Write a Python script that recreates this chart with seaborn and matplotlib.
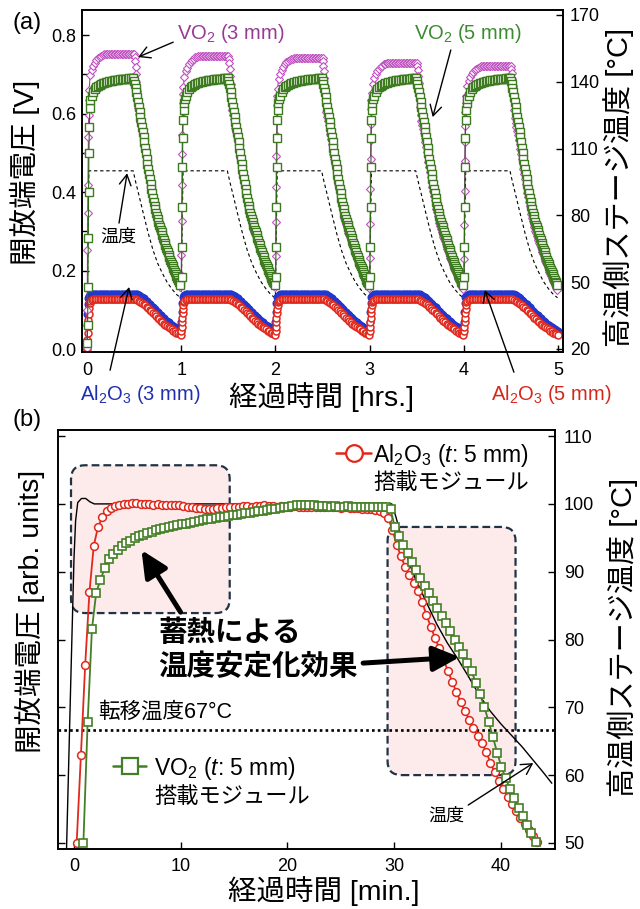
import matplotlib
matplotlib.use("Agg")
import matplotlib.pyplot as plt
import numpy as np
import seaborn as sns
from matplotlib.lines import Line2D
from matplotlib.patches import FancyBboxPatch
from matplotlib.ticker import MultipleLocator, FormatStrFormatter

# ---------------- (a) five 1-hour heat cycles, one profile per cycle (minutes in cycle) ----
N_CYCLES = 5

# VO2 5 mm, green squares [V]
G_RISE_MIN = [0.2, 0.4, 0.6, 0.8, 1.0, 1.2, 1.5, 1.8, 2.2]
G_RISE_FIRST = [0.015, 0.061, 0.159, 0.282, 0.401, 0.499, 0.565, 0.613, 0.634]
G_RISE_NEXT = [0.184, 0.261, 0.363, 0.464, 0.537, 0.583, 0.609, 0.628, 0.638]
G_MIN = np.concatenate([np.arange(3, 30), np.arange(29.5, 60, 0.5)])
G_VAL = [0.645, 0.655, 0.663, 0.667, 0.670, 0.673, 0.675, 0.677, 0.678, 0.680, 0.681, 0.682, 0.683,
         0.684, 0.685, 0.685, 0.686, 0.686, 0.687, 0.687, 0.688, 0.688, 0.689, 0.689, 0.690, 0.690, 0.691,
         0.690, 0.684, 0.675, 0.665, 0.654, 0.642, 0.630, 0.618, 0.605, 0.592, 0.579, 0.566, 0.553, 0.540,
         0.527, 0.513, 0.499, 0.485, 0.471, 0.458, 0.445, 0.433, 0.421, 0.409, 0.397, 0.386, 0.375, 0.365,
         0.356, 0.347, 0.339, 0.331, 0.324, 0.317,
         0.310, 0.304, 0.297, 0.291, 0.284, 0.278, 0.271, 0.265, 0.258, 0.252, 0.246, 0.240, 0.234, 0.228,
         0.222, 0.217, 0.211, 0.206, 0.201, 0.196, 0.191, 0.186, 0.181, 0.176, 0.171, 0.167, 0.163]

# VO2 3 mm, magenta diamonds [V]; plateau level differs per cycle
M_LEVEL = [0.753, 0.748, 0.742, 0.730, 0.722]
M_RISE_MIN = [0.0, 0.15, 0.3, 0.45, 0.6, 0.75, 0.9, 1.05, 1.2, 1.4]
M_RISE_FIRST = [0.003, 0.100, 0.252, 0.346, 0.418, 0.499, 0.541, 0.596, 0.634, 0.660]
M_RISE_NEXT = [0.190, 0.240, 0.329, 0.420, 0.500, 0.550, 0.592, 0.630, 0.655, 0.672]
M_MIN = np.concatenate([np.arange(2, 31), [30.3, 30.6, 30.9, 31.2, 31.5, 31.8, 32.1],
                        np.arange(32.5, 60, 0.5)])
M_VAL = [0.698, 0.712, 0.722, 0.730, 0.737, 0.742, 0.745, 0.748, 0.750, 0.751, 0.752, 0.752,
         0.753, 0.753, 0.753, 0.753, 0.753, 0.753, 0.753, 0.753, 0.753, 0.753, 0.753, 0.753,
         0.753, 0.753, 0.753, 0.753, 0.753,
         0.745, 0.733, 0.718, 0.700, 0.680, 0.658, 0.636,
         0.614, 0.600, 0.590, 0.579, 0.568, 0.556, 0.544, 0.531, 0.518, 0.505,
         0.491, 0.478, 0.465, 0.452, 0.439, 0.427, 0.415, 0.403, 0.391, 0.380,
         0.369, 0.359, 0.349, 0.340, 0.331, 0.323, 0.315, 0.308, 0.301, 0.295,
         0.289, 0.283, 0.277, 0.270, 0.264, 0.258, 0.252, 0.246, 0.240, 0.234,
         0.228, 0.222, 0.217, 0.211, 0.206, 0.200, 0.195, 0.190, 0.185, 0.180,
         0.176, 0.171, 0.167, 0.162, 0.158]

# Al2O3 5 mm, red circles [V]
R_RISE_MIN = [0.1, 0.3, 0.5, 0.7, 0.9, 1.1, 1.4, 1.7]
R_RISE_FIRST = [0.000, 0.023, 0.040, 0.058, 0.074, 0.090, 0.105, 0.117]
R_RISE_NEXT = [0.046, 0.057, 0.068, 0.080, 0.092, 0.103, 0.113, 0.120]
R_MIN = np.concatenate([np.arange(2, 60), [59.7]])
R_VAL = [0.122, 0.125, 0.127,
         0.128, 0.128, 0.128, 0.128, 0.128, 0.128, 0.128, 0.128, 0.128, 0.128, 0.128, 0.128, 0.128,
         0.128, 0.128, 0.128, 0.128, 0.128, 0.128, 0.128, 0.128, 0.128, 0.128, 0.128, 0.128, 0.128,
         0.127, 0.125, 0.123, 0.120, 0.117, 0.114, 0.111, 0.108, 0.104, 0.100, 0.096, 0.092, 0.088,
         0.084, 0.080, 0.076, 0.072, 0.069, 0.065, 0.062, 0.059, 0.056, 0.053, 0.050, 0.047, 0.045,
         0.042, 0.040, 0.038, 0.036]

# Al2O3 3 mm, blue circles [V]
B_RISE_MIN = [0.0, 0.3, 0.6, 0.9]
B_RISE_FIRST = [0.060, 0.090, 0.115, 0.130]
B_RISE_NEXT = [0.070, 0.095, 0.118, 0.132]
B_MIN = np.concatenate([[1.5], np.arange(2, 60), [59.7]])
B_VAL = [0.136, 0.138, 0.139,
         0.140, 0.140, 0.140, 0.140, 0.140, 0.140, 0.140, 0.140, 0.140, 0.140, 0.140, 0.140, 0.140,
         0.140, 0.140, 0.140, 0.140, 0.140, 0.140, 0.140, 0.140, 0.140, 0.140, 0.140, 0.140, 0.140,
         0.140, 0.140,
         0.139, 0.137, 0.135, 0.132, 0.129, 0.1255, 0.122, 0.118, 0.114, 0.110, 0.106, 0.102, 0.098,
         0.094, 0.090, 0.086, 0.082, 0.0785, 0.075, 0.0715, 0.068, 0.065, 0.062, 0.059, 0.056, 0.0535,
         0.051, 0.049, 0.047]

# hot-stage temperature [degC], dashed
T_RISE_MIN = [0.0, 0.6]
T_RISE_FIRST = [20, 70]
T_RISE_NEXT = [43, 75]
T_MIN = [1.2, 29.4, 31, 33, 36, 39, 42, 45, 48, 51, 54, 57, 59.7]
T_VAL = [100, 100, 95, 89.3, 80.5, 72, 64.5, 58.5, 54, 50, 47, 44.5, 43]

# ---------------- (b) single 45-minute run, normalised voltage (sampled every 0.4 min) ----
SAMPLE_MIN = 0.4
AL_T0 = 0.25
AL_VOLT = [50.0, 63.0, 76.3, 87.0, 93.8, 96.6, 98.0, 98.9, 99.4, 99.7, 99.9, 100.0,
           100.0, 100.1, 100.1, 100.0, 100.0, 100.0, 99.9, 100.0, 99.9, 99.9, 99.9, 99.8, 99.8, 99.7,
           99.6, 99.5, 99.4, 99.4, 99.3, 99.3, 99.3, 99.4, 99.4, 99.5, 99.5,
           99.6, 99.6, 99.7, 99.7, 99.6, 99.7, 99.7, 99.8, 99.7, 99.7, 99.6, 99.7, 99.6, 99.6, 99.7,
           99.6, 99.6, 99.5, 99.6, 99.6, 99.5, 99.5, 99.6, 99.5, 99.5, 99.4, 99.5, 99.4, 99.4, 99.4,
           99.3, 99.3, 99.2,
           99.1, 98.9, 98.6, 97.9, 96.2, 94.0, 92.3, 90.7, 89.5, 88.4, 87.1, 85.5, 83.6, 81.9, 80.2,
           78.7, 77.1, 75.4, 73.8, 72.3, 70.8, 69.4, 68.2, 67.0, 65.8, 64.7, 63.4, 61.8, 60.4, 59.2,
           58.0, 56.8, 55.7, 54.7, 53.7, 52.8, 51.9, 51.0, 50.1]
VO_T0 = 0.88
VO_VOLT = [50.0, 67.8, 81.5, 86.9, 88.8, 90.5, 91.8, 92.6, 93.2, 93.8,
           94.2, 94.6, 94.9, 95.2, 95.4, 95.7, 95.9, 96.1, 96.3, 96.4,
           96.6, 96.7, 96.9, 97.0, 97.1, 97.2, 97.3, 97.5, 97.6, 97.7,
           97.8, 97.9, 98.0, 98.1, 98.2, 98.3, 98.4, 98.5, 98.6, 98.7,
           98.8, 98.9, 99.0, 99.1, 99.2, 99.3, 99.4, 99.5, 99.6, 99.7,
           99.8, 99.9, 99.9, 99.8, 99.8, 99.7, 99.7, 99.7, 99.6, 99.7,
           99.6, 99.6, 99.7, 99.6, 99.6, 99.5, 99.6, 99.6, 99.5, 99.5,
           99.5, 99.5, 99.2,
           96.6, 95.3, 94.0, 92.7, 91.4, 90.2, 89.0, 87.9, 86.8, 85.7,
           84.6, 83.5, 82.4, 81.2, 80.0, 78.9, 77.8, 76.6, 75.3, 73.6,
           71.9, 70.0, 67.9, 65.6, 63.3, 61.2, 59.5, 58.0, 56.6, 55.2,
           53.9, 52.6, 51.4, 50.2]
STAGE_MIN = [-0.7, -0.3, 0.0, 0.15, 0.35, 0.7, 1.1, 1.5, 1.9, 2.5, 29.8, 30.2, 30.6, 31.0, 31.5,
             32.0, 32.8, 34.0, 35.0, 36.0, 37.0, 38.0, 39.0, 40.0, 41.0, 42.0, 43.0, 44.0, 44.8]
STAGE_C = [49.1, 74.0, 92.0, 97.5, 100.2, 100.8, 100.8, 100.3, 100.0, 100.0, 100.0, 98.0, 95.6, 93.3,
           91.0, 89.0, 86.3, 82.3, 79.5, 77.1, 74.5, 71.8, 69.5, 67.6, 65.9, 64.2, 62.3, 60.4, 58.8]
TRANSITION_C = 66.7

PURPLE, PURPLE_LINE, PURPLE_TXT = "#c051c0", "#a23f9c", "#973a94"
GREEN, GREEN_LINE, GREEN_TXT = "#3e7a20", "#2c6913", "#3b8c2f"
BLUE, BLUE_TXT = "#2236d0", "#1f2fb0"
RED, RED_TXT = "#e0281c", "#d5281b"
BOX_FC, BOX_EC = "#fdeaea", "#1f3344"


def cycles(rise_min, rise_first, rise_next, main_min, main_val, levels=None):
    t, v = [], []
    for c in range(N_CYCLES):
        rise = rise_first if c == 0 else rise_next
        vals = np.concatenate([rise, main_val]).astype(float)
        if levels is not None:
            vals = vals * levels[c] / levels[0]
        t.append(c + np.concatenate([rise_min, main_min]) / 60.0)
        v.append(vals)
    return np.concatenate(t), np.concatenate(v)


sns.set_theme(style="ticks")
plt.rcParams["font.family"] = ["Liberation Sans", "Noto Sans CJK JP"]
plt.rcParams["mathtext.fontset"] = "custom"
plt.rcParams["mathtext.rm"] = "Liberation Sans"
plt.rcParams["mathtext.it"] = "Liberation Sans:italic"
plt.rcParams["mathtext.bf"] = "Liberation Sans:bold"
plt.rcParams["axes.edgecolor"] = "black"
plt.rcParams["axes.linewidth"] = 1.2
plt.rcParams["xtick.color"] = "black"
plt.rcParams["ytick.color"] = "black"
plt.rcParams["text.color"] = "black"
plt.rcParams["axes.labelcolor"] = "black"

fig = plt.figure(figsize=(6.4, 9.09), dpi=100)

# ================= panel (a) =================
ax_a = fig.add_axes([82 / 640, 1 - 352 / 909, 481 / 640, 342 / 909])
ax_a2 = ax_a.twinx()
ax_a.set_zorder(ax_a2.get_zorder() + 1)
ax_a.patch.set_visible(False)

line_kw = dict(ax=ax_a, sort=False, estimator=None, lw=0.8)
tb, vb = cycles(B_RISE_MIN, B_RISE_FIRST, B_RISE_NEXT, B_MIN, B_VAL)
sns.lineplot(x=tb, y=vb, color=BLUE, marker="o", markersize=5.0, markerfacecolor=BLUE,
             markeredgecolor=BLUE, markeredgewidth=0.8, **line_kw)
tr, vr = cycles(R_RISE_MIN, R_RISE_FIRST, R_RISE_NEXT, R_MIN, R_VAL)
sns.lineplot(x=tr, y=vr, color=RED, marker="o", markersize=5.0, markerfacecolor="white",
             markeredgecolor=RED, markeredgewidth=1.1, **line_kw)
tm, vm = cycles(M_RISE_MIN, M_RISE_FIRST, M_RISE_NEXT, M_MIN, M_VAL, M_LEVEL)
sns.lineplot(x=tm, y=vm, color=PURPLE_LINE, marker="D", markersize=4.4, markerfacecolor="white",
             markeredgecolor=PURPLE, markeredgewidth=0.8, **line_kw)
tg, vg = cycles(G_RISE_MIN, G_RISE_FIRST, G_RISE_NEXT, G_MIN, G_VAL)
sns.lineplot(x=tg, y=vg, color=GREEN_LINE, marker="s", markersize=5.1, markerfacecolor="white",
             markeredgecolor=GREEN, markeredgewidth=1.0, **line_kw)

tt, vt = cycles(T_RISE_MIN, T_RISE_FIRST, T_RISE_NEXT, T_MIN, T_VAL)
sns.lineplot(x=tt, y=vt, ax=ax_a2, sort=False, estimator=None, color="black", lw=0.8,
             linestyle=(0, (3, 2.5)))

ax_a.set_xlim(-0.053, 5.053)
ax_a.set_ylim(-0.0076, 0.864)
ax_a2.set_ylim(18.65, 172.2)
ax_a.xaxis.set_major_locator(MultipleLocator(1))
ax_a.yaxis.set_major_locator(MultipleLocator(0.2))
ax_a.yaxis.set_minor_locator(MultipleLocator(0.1))
ax_a.yaxis.set_major_formatter(FormatStrFormatter("%.1f"))
ax_a2.set_yticks([20, 50, 80, 110, 140, 170])
ax_a.tick_params(which="both", direction="in", top=False, right=False, labelsize=13, width=1.0)
ax_a.tick_params(which="major", length=5)
ax_a.tick_params(which="minor", length=3.5)
ax_a.tick_params(axis="y", pad=4)
ax_a.tick_params(axis="x", pad=7)
ax_a2.tick_params(axis="y", direction="in", labelsize=13, pad=5, length=5, width=1.0)

ax_a.set_ylabel("開放端電圧 [V]", fontsize=20.5)
ax_a.yaxis.set_label_coords(-0.087, 0.526)
ax_a2.set_ylabel("高温側ステージ温度 [°C]", fontsize=21)
ax_a2.yaxis.set_label_coords(1.083, 0.482)
ax_a.set_xlabel("経過時間 [hrs.]", fontsize=20.5)
ax_a.xaxis.set_label_coords(0.498, -0.088)

thin = dict(arrowstyle="->,head_length=0.5,head_width=0.28", lw=1.0, color="black",
            mutation_scale=15, shrinkA=0, shrinkB=0)
ax_a.text(0.957, 0.805, "VO$_2$ (3 mm)", color=PURPLE_TXT, fontsize=14.5, ha="left", va="center")
ax_a.annotate("", xy=(0.543, 0.744), xytext=(0.915, 0.782), arrowprops=thin)
ax_a.text(3.468, 0.805, "VO$_2$ (5 mm)", color=GREEN_TXT, fontsize=14.5, ha="left", va="center")
ax_a.annotate("", xy=(3.67, 0.591), xytext=(3.862, 0.762), arrowprops=thin)
ax_a.text(0.33, 0.285, "温度", fontsize=13, ha="center", va="center")
ax_a.annotate("", xy=(0.426, 0.448), xytext=(0.34, 0.321), arrowprops=thin)
ax_a.text(0.564, -0.117, "Al$_2$O$_3$ (3 mm)", color=BLUE_TXT, fontsize=14.5, ha="center", va="center")
ax_a.annotate("", xy=(0.447, 0.158), xytext=(0.245, -0.054), arrowprops=thin, annotation_clip=False)
ax_a.text(4.926, -0.115, "Al$_2$O$_3$ (5 mm)", color=RED_TXT, fontsize=14.5, ha="center", va="center")
ax_a.annotate("", xy=(4.223, 0.150), xytext=(4.532, -0.059), arrowprops=thin, annotation_clip=False)

# ================= panel (b) =================
ax_b = fig.add_axes([58 / 640, 1 - 849 / 909, 497 / 640, 419 / 909])
ax_b2 = ax_b.twinx()
ax_b.set_zorder(ax_b2.get_zorder() + 1)
ax_b.patch.set_visible(False)

# highlighted regions (behind everything)
for (x0, x1, y0, y1) in [(-0.28, 14.6, 83.9, 105.7), (29.4, 41.4, 60.0, 96.6)]:
    ax_b2.add_patch(FancyBboxPatch((x0, y0), x1 - x0, y1 - y0,
                                   boxstyle="round,pad=0,rounding_size=1.31", mutation_aspect=1.572,
                                   fc=BOX_FC, ec=BOX_EC, lw=1.6, ls=(0, (3.5, 1.8)), zorder=1))
ax_b2.axhline(TRANSITION_C, color="black", lw=1.9, ls=(0, (1, 1.2)), zorder=2)
sns.lineplot(x=STAGE_MIN, y=STAGE_C, ax=ax_b2, sort=False, estimator=None, color="black", lw=1.0,
             zorder=3)

t_al = AL_T0 + SAMPLE_MIN * np.arange(len(AL_VOLT))
t_vo = VO_T0 + SAMPLE_MIN * np.arange(len(VO_VOLT))
sns.lineplot(x=t_al, y=AL_VOLT, ax=ax_b, sort=False, estimator=None, color=RED, lw=1.3,
             marker="o", markersize=5.6, markerfacecolor="white", markeredgecolor=RED,
             markeredgewidth=1.1)
sns.lineplot(x=t_vo, y=VO_VOLT, ax=ax_b, sort=False, estimator=None, color="#447f25", lw=1.3,
             marker="s", markersize=5.8, markerfacecolor="white", markeredgecolor="#447f25",
             markeredgewidth=1.2)

ax_b.set_xlim(-1.5, 45.1)
ax_b.set_ylim(49.1, 110.9)
ax_b2.set_ylim(49.1, 110.9)
ax_b.set_xticks([0, 10, 20, 30, 40])
ax_b.set_yticks([50, 60, 70, 80, 90, 100, 110])
ax_b2.set_yticks([50, 60, 70, 80, 90, 100, 110])
ax_b.tick_params(which="both", direction="in", top=False, right=False, labelsize=13, length=5,
                 width=1.0)
ax_b.tick_params(axis="y", labelleft=False)
ax_b.tick_params(axis="x", pad=6.5)
ax_b2.tick_params(axis="y", direction="in", labelsize=13, pad=6.5, length=5, width=1.0)

ax_b.set_ylabel("開放端電圧 [arb. units]", fontsize=20.5)
ax_b.yaxis.set_label_coords(-0.026, 0.566)
ax_b2.set_ylabel("高温側ステージ温度 [°C]", fontsize=21)
ax_b2.yaxis.set_label_coords(1.105, 0.506)
ax_b.set_xlabel("経過時間 [min.]", fontsize=20.5)
ax_b.xaxis.set_label_coords(0.535, -0.064)

h_al = Line2D([], [], color=RED, lw=1.8, marker="o", markersize=12, markerfacecolor="white",
              markeredgecolor=RED, markeredgewidth=1.6)
h_vo = Line2D([], [], color="#447f25", lw=1.8, marker="s", markersize=12, markerfacecolor="white",
              markeredgecolor="#447f25", markeredgewidth=1.6)
leg1 = ax_b.legend(handles=[h_al], labels=["Al$_2$O$_3$ ($t$: 5 mm)"], loc="center left",
                   bbox_to_anchor=(0.5594, 0.9403), frameon=False, fontsize=16.5, handlelength=1.53,
                   handletextpad=0.1, borderpad=0, borderaxespad=0)
ax_b.add_artist(leg1)
ax_b.legend(handles=[h_vo], labels=["VO$_2$ ($t$: 5 mm)"], loc="center left",
            bbox_to_anchor=(0.1107, 0.1933), frameon=False, fontsize=16.5, handlelength=1.44,
            handletextpad=0.35, borderpad=0, borderaxespad=0)
ax_b.text(0.6338, 0.8735, "搭載モジュール", transform=ax_b.transAxes, fontsize=16, ha="left", va="center")
ax_b.text(0.1932, 0.1241, "搭載モジュール", transform=ax_b.transAxes, fontsize=16, ha="left", va="center")

ax_b.text(0.2012, 0.5155, "蓄熱による", transform=ax_b.transAxes, fontsize=20.5, fontweight="bold",
          ha="left", va="center")
ax_b.text(0.2012, 0.4344, "温度安定化効果", transform=ax_b.transAxes, fontsize=20.5, fontweight="bold",
          ha="left", va="center")
thick = dict(arrowstyle="-|>,head_length=0.8,head_width=0.38", lw=3.6, color="black",
             mutation_scale=20, shrinkA=0, shrinkB=0)
ax_b.annotate("", xy=(6.33, 93.19), xytext=(9.99, 84.04), arrowprops=thick)
ax_b.annotate("", xy=(36.16, 77.40), xytext=(27.11, 76.52), arrowprops=thick)

ax_b.text(0.0805, 0.327, "転移温度67°C", transform=ax_b.transAxes, fontsize=15.5, ha="left", va="center")
ax_b.text(0.7817, 0.0788, "温度", transform=ax_b.transAxes, fontsize=13, ha="center", va="center")
ax_b.annotate("", xy=(43.06, 61.77), xytext=(36.96, 55.58), arrowprops=thin)

fig.text(27 / 640, 1 - 23.5 / 909, "(a)", fontsize=17, ha="center", va="center")
fig.text(27 / 640, 1 - 420 / 909, "(b)", fontsize=17, ha="center", va="center")

fig.savefig("out.png", dpi=100)
